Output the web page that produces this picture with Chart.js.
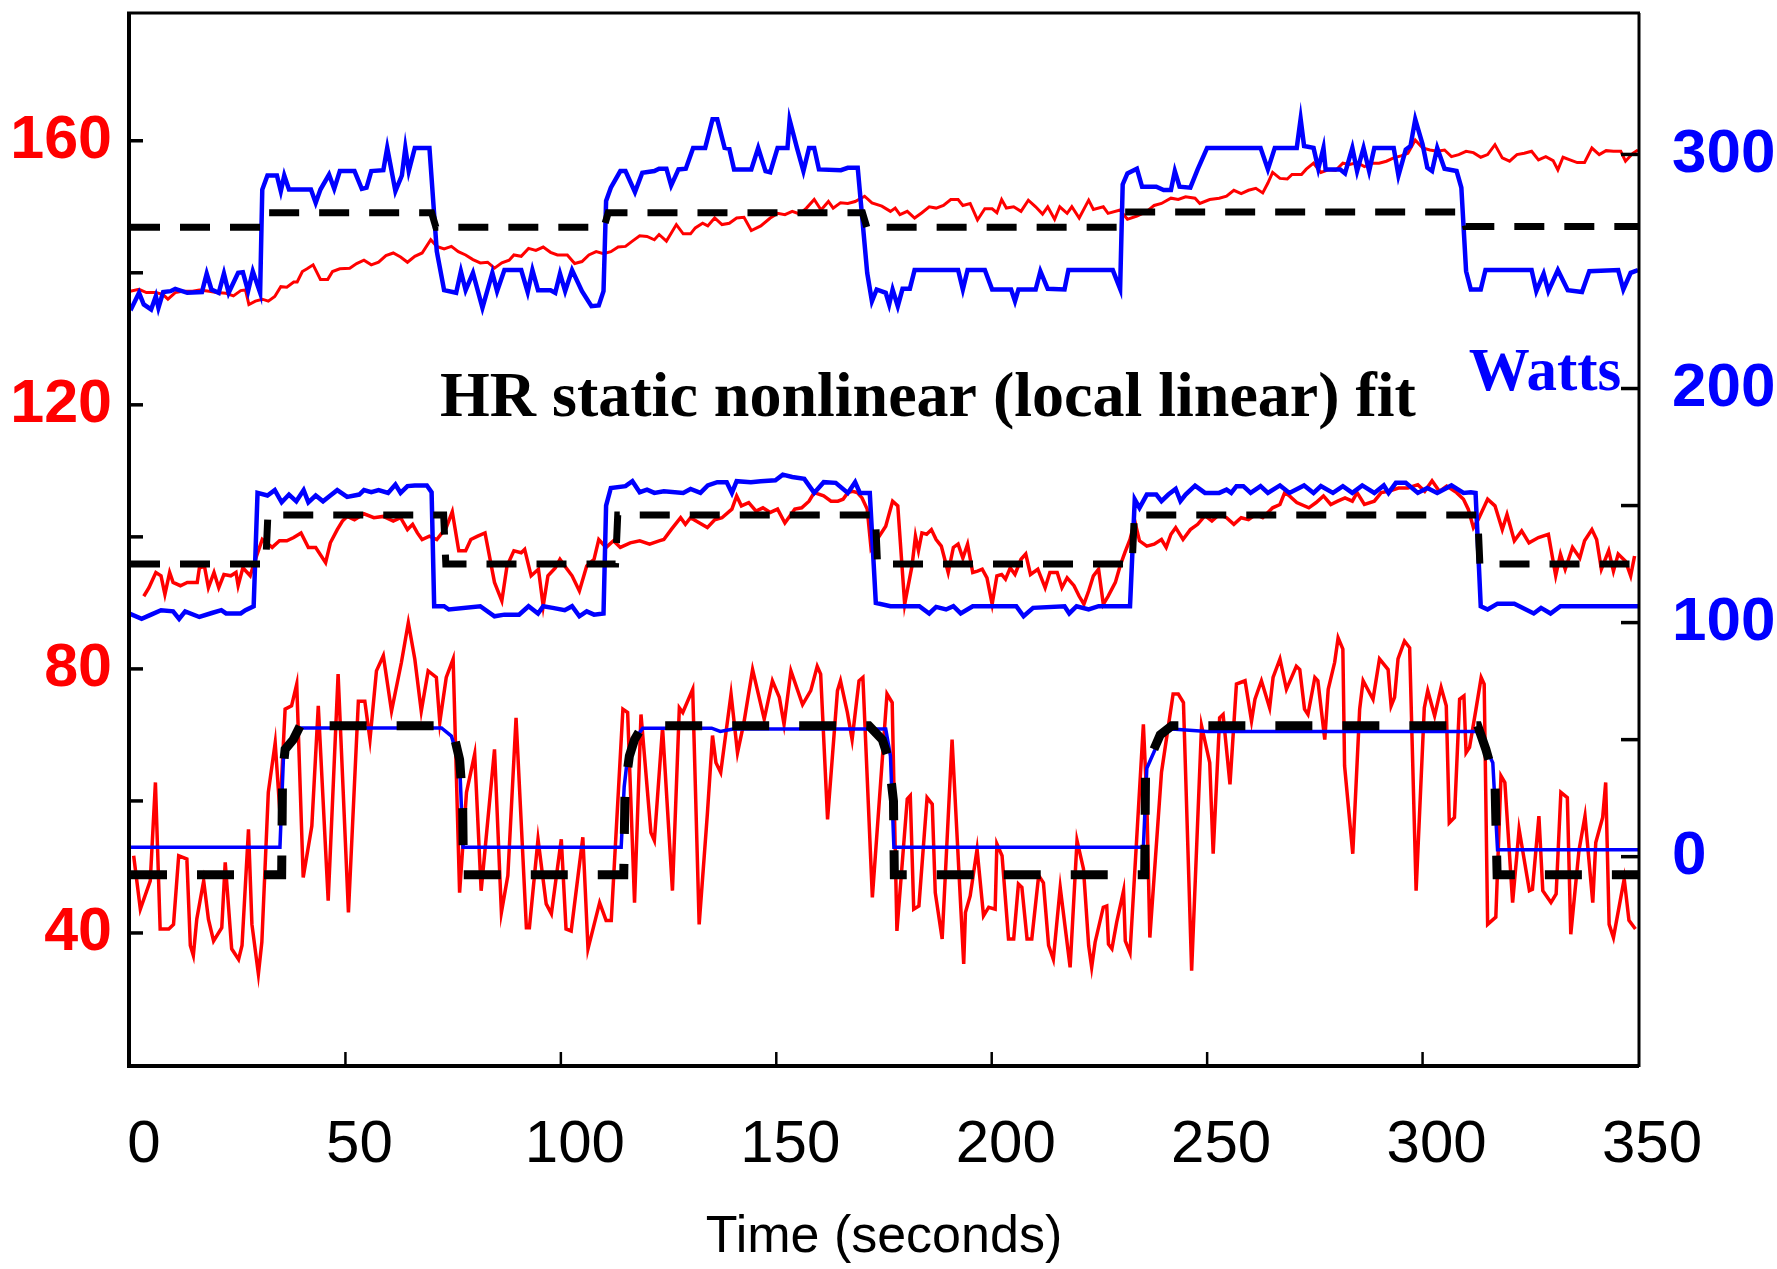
<!DOCTYPE html>
<html>
<head>
<meta charset="utf-8">
<script src="https://cdn.jsdelivr.net/npm/chart.js@4.4.1/dist/chart.umd.min.js"></script>
<style>
  html, body { margin: 0; padding: 0; background: #fff; }
  #wrap { width: 1777px; height: 1269px; }
</style>
</head>
<body>
<div id="wrap"><canvas id="hrChart" width="1777" height="1269"></canvas></div>
<script>
// time (s), value pairs
// top panel: HR (left axis), Watts (right axis), static fit (left axis)
const topHr = [[0,137.2],[2.1,137.5],[3.8,137.0],[6.0,137.0],[7.7,136.7],[8.8,136.0],[10.5,137.0],[12.2,137.2],[14.5,137.2],[16.1,137.4],[18.4,137.2],[20.1,137.0],[22.3,136.9],[24.0,136.5],[25.7,137.3],[26.8,137.4],[27.6,135.2],[29.1,135.7],[30.7,136.0],[32.1,135.7],[33.6,136.4],[35.0,137.9],[36.4,137.8],[38.0,138.6],[38.8,138.6],[40.0,140.2],[41.1,140.6],[42.5,141.2],[44.2,139.0],[45.9,139.0],[47.0,140.2],[48.7,140.6],[51.0,140.7],[52.6,141.4],[54.3,141.9],[56.0,141.2],[57.7,141.6],[59.4,142.6],[61.1,143.0],[62.8,142.4],[64.4,141.6],[66.1,142.5],[67.8,143.0],[69.8,145.0],[71.2,144.0],[72.9,143.6],[74.6,144.0],[76.2,143.2],[77.9,142.7],[79.6,142.0],[81.3,141.5],[83.0,141.6],[84.6,140.7],[86.3,141.5],[88.0,141.9],[89.1,142.7],[90.8,142.5],[92.5,143.7],[94.2,143.4],[95.9,143.9],[97.6,143.1],[99.2,142.7],[101.5,142.7],[103.2,141.4],[104.9,141.7],[106.5,142.7],[108.2,143.2],[109.9,142.9],[111.6,143.2],[113.3,143.9],[115.0,144.0],[116.6,144.8],[118.3,145.6],[120.0,145.5],[121.7,145.0],[122.8,145.8],[124.5,144.8],[125.6,146.0],[126.8,147.3],[128.4,145.9],[130.1,145.9],[131.2,146.8],[132.9,147.5],[134.1,147.1],[135.7,148.3],[137.4,147.3],[139.1,147.5],[140.8,148.3],[142.5,148.4],[144.2,146.4],[146.4,147.1],[148.6,148.3],[150.3,149.0],[152.0,148.8],[153.7,149.3],[155.4,148.9],[157.0,149.8],[158.8,151.1],[160.4,149.5],[162.1,150.8],[163.2,149.8],[164.9,150.6],[166.6,150.5],[168.3,150.8],[170.5,151.6],[172.2,150.6],[174.5,150.1],[176.5,149.3],[177.6,149.8],[178.7,148.8],[180.4,149.3],[182.1,148.3],[183.8,149.1],[185.5,150.0],[187.1,149.8],[188.8,150.2],[190.5,151.1],[192.2,151.1],[193.3,150.2],[195.0,150.5],[196.7,148.0],[198.4,149.7],[200.1,149.7],[201.2,149.1],[202.3,151.1],[203.4,149.8],[205.1,150.0],[206.8,149.3],[208.5,151.0],[210.2,150.0],[211.8,148.9],[213.0,150.0],[214.6,148.1],[215.8,150.0],[217.5,149.0],[218.6,150.0],[220.3,148.3],[222.5,151.0],[223.6,149.6],[225.9,150.0],[227.0,149.0],[229.8,149.5],[231.5,148.1],[233.7,148.6],[236.0,149.3],[237.7,150.2],[239.4,150.5],[241.6,151.3],[243.3,151.1],[245.0,151.5],[247.2,151.3],[248.3,150.5],[250.6,151.1],[252.8,151.3],[254.5,151.6],[256.2,152.5],[257.9,152.0],[259.6,152.5],[261.3,152.8],[262.9,152.1],[264.1,153.6],[265.2,155.2],[266.9,154.3],[268.6,154.2],[269.7,154.9],[271.9,154.9],[273.0,155.7],[274.7,156.6],[276.4,155.2],[278.1,155.6],[279.8,155.5],[281.5,156.6],[283.1,156.4],[284.8,156.7],[286.5,156.1],[288.2,156.6],[289.9,156.6],[291.6,156.9],[293.3,157.4],[295.0,157.7],[296.6,158.1],[298.3,160.1],[300.0,158.9],[301.7,158.6],[303.4,158.4],[305.1,158.6],[306.7,157.6],[308.4,157.9],[310.1,158.4],[311.8,158.2],[313.5,157.5],[315.1,157.9],[316.8,159.4],[318.5,157.4],[320.2,156.9],[321.9,157.9],[323.6,158.1],[325.3,158.4],[326.9,157.1],[328.6,157.6],[330.3,157.0],[331.4,155.6],[332.6,157.5],[334.2,157.1],[335.9,156.7],[337.6,156.7],[339.3,158.9],[341.0,157.9],[342.6,158.5],[344.3,158.4],[346.0,158.4],[347.1,156.9],[348.8,158.1],[350,158.6]];
const topWatts = [[0,235.2],[0.4,234.5],[2.1,240.9],[3.2,235.9],[4.9,233.8],[6.0,239.5],[6.6,234.5],[7.7,241.2],[9.4,241.6],[10.5,242.6],[13.3,240.9],[16.7,241.2],[17.8,249.1],[18.9,242.3],[20.6,240.9],[21.8,249.1],[22.9,240.9],[25.1,249.4],[26.2,249.7],[27.4,241.6],[28.5,250.1],[30.2,240.9],[30.7,285.0],[31.9,291.0],[34.1,291.0],[35.0,284.3],[35.8,291.0],[36.9,285.0],[42.0,285.0],[43.1,279.3],[44.2,285.0],[46.2,291.4],[47.4,285.3],[48.7,292.9],[52.1,292.9],[53.8,285.3],[54.9,285.8],[56.0,292.9],[58.8,293.3],[59.7,302.8],[61.6,284.3],[63.1,291.0],[63.9,302.8],[64.7,292.9],[66.1,302.8],[69.5,302.8],[71.2,258.7],[72.9,242.0],[75.7,240.9],[76.8,250.1],[77.9,242.0],[79.6,249.4],[81.8,234.5],[84.1,249.4],[85.2,241.6],[86.9,250.6],[90.8,250.6],[92.3,241.2],[93.4,250.6],[94.7,242.0],[97.6,242.0],[98.7,240.9],[99.8,249.1],[101.0,241.6],[102.6,250.6],[104.9,241.6],[107.1,235.2],[108.8,235.5],[109.9,241.6],[110.5,280.1],[111.6,285.8],[113.8,292.9],[115.0,292.9],[117.2,283.9],[118.9,292.2],[121.7,292.9],[122.8,293.9],[124.5,293.9],[125.6,286.7],[127.3,293.6],[129.0,293.9],[130.7,302.8],[133.5,302.8],[135.2,315.0],[136.3,315.0],[138.0,302.8],[139.1,302.4],[140.2,293.6],[144.2,293.6],[145.8,302.8],[147.5,292.9],[148.6,292.4],[150.3,302.8],[152.6,302.8],[153.1,314.7],[154.8,302.8],[156.3,292.9],[157.6,302.8],[158.8,302.8],[159.9,293.6],[165.0,293.3],[166.6,294.3],[168.9,294.3],[171.1,249.4],[172.2,237.3],[173.3,242.3],[175.4,240.9],[176.2,235.9],[177.0,242.3],[178.2,235.2],[179.3,242.6],[181.0,242.6],[182.1,250.6],[192.2,250.6],[193.3,242.3],[194.4,250.6],[198.4,250.6],[200.1,242.3],[204.5,242.3],[205.4,237.3],[206.2,242.3],[210.2,242.3],[211.3,250.1],[213.0,242.6],[216.9,242.3],[217.8,250.6],[228.1,250.6],[229.8,242.6],[230.4,287.2],[231.5,291.9],[233.7,293.9],[234.9,286.2],[238.2,286.2],[239.9,284.8],[241.6,284.8],[242.5,292.9],[243.6,286.2],[246.1,285.8],[247.8,293.6],[250.0,302.8],[262.4,302.8],[264.1,293.6],[265.7,302.8],[270.8,302.8],[271.7,315.2],[272.5,303.6],[274.7,302.8],[275.8,293.9],[277.0,302.8],[277.5,293.6],[280.9,293.6],[282.0,291.9],[283.7,302.8],[284.8,292.9],[286.3,302.8],[287.6,292.9],[288.8,302.8],[293.3,302.8],[294.4,291.0],[296.1,302.1],[297.2,303.6],[298.3,315.0],[300.0,304.3],[301.1,294.3],[302.2,292.9],[303.4,302.8],[305.1,293.9],[307.9,292.9],[309.0,285.8],[310.1,250.1],[311.2,242.3],[313.5,242.3],[314.6,250.6],[325.3,250.6],[326.4,241.6],[328.1,249.1],[329.2,241.6],[331.4,250.6],[333.7,242.0],[337.0,241.2],[338.7,250.1],[345.4,250.6],[346.6,242.3],[348.3,249.4],[350,250.6]];
const topFit = [[0,146.9],[30.5,146.9],[31.5,149.1],[70,149.1],[71,146.9],[110,146.9],[111,149.1],[170,149.1],[171,146.9],[229.5,146.9],[230.5,149.2],[309,149.2],[310,147.0],[350,147.0]];

// middle panel
const midHr = [[3.2,91.0],[4.4,92.3],[6.0,94.6],[7.2,94.1],[8.1,91.3],[9.2,94.6],[10.0,93.1],[11.7,92.6],[13.3,93.1],[15.6,93.1],[16.1,95.3],[17.3,95.5],[18.2,92.3],[19.5,94.6],[20.6,92.3],[21.8,94.3],[23.4,94.1],[24.6,94.6],[25.1,92.6],[26.2,95.3],[27.9,94.1],[29.1,96.6],[30.7,99.6],[33.0,98.4],[34.7,99.4],[36.4,99.4],[38.0,99.9],[39.7,100.6],[41.4,98.4],[43.1,98.4],[45.4,96.1],[46.5,99.1],[48.1,101.1],[49.3,102.4],[50.4,103.1],[52.1,102.6],[54.3,103.5],[56.6,102.9],[58.8,103.1],[61.1,102.4],[62.8,102.9],[64.4,101.1],[65.6,101.9],[66.7,100.6],[67.8,99.6],[69.5,100.1],[71.2,99.6],[73.4,101.4],[74.8,103.8],[76.3,97.9],[77.9,97.9],[79.1,99.6],[80.7,100.1],[82.4,100.6],[84.6,93.1],[86.3,90.3],[87.5,95.6],[89.1,97.9],[90.8,97.6],[91.6,98.1],[93.1,94.1],[94.8,95.1],[95.9,89.5],[97.0,94.1],[98.7,95.3],[99.8,96.6],[100.9,95.6],[102.6,94.1],[104.3,91.8],[106.0,95.6],[107.7,96.6],[108.8,99.6],[110.5,98.4],[112.2,99.4],[113.8,98.4],[116.1,99.1],[118.3,99.4],[120.6,98.9],[122.8,99.4],[123.9,99.6],[125.6,101.1],[127.8,102.9],[128.9,101.9],[130.1,102.9],[134.0,101.4],[135.7,102.6],[137.4,102.9],[139.7,104.2],[140.8,106.2],[141.9,104.7],[143.6,105.2],[145.3,103.9],[146.9,104.4],[148.6,103.7],[150.3,104.2],[152.0,102.1],[154.3,104.2],[155.9,104.4],[157.6,105.4],[158.8,106.7],[161.0,106.2],[162.7,105.4],[164.3,105.4],[165.5,105.7],[166.6,106.7],[167.7,106.9],[168.8,106.7],[169.9,105.9],[171.1,104.2],[172.0,98.2],[175.4,101.6],[177.0,105.4],[178.2,104.7],[179.8,89.8],[181.5,95.6],[182.3,100.1],[183.0,97.9],[183.8,100.6],[184.9,100.4],[186.0,101.1],[187.1,99.6],[188.3,98.6],[189.9,94.6],[191.1,98.4],[192.2,98.9],[193.3,96.8],[194.4,98.9],[195.6,94.6],[196.7,94.8],[197.8,95.1],[198.9,93.8],[200.1,89.8],[201.2,94.1],[202.3,94.3],[203.2,93.6],[204.3,95.3],[205.4,94.3],[206.8,96.6],[207.9,97.4],[209.0,94.3],[210.7,95.1],[212.4,92.3],[213.5,94.6],[215.2,94.6],[216.3,92.3],[217.5,93.8],[219.1,92.6],[220.3,91.0],[221.4,89.8],[222.5,91.8],[223.6,94.1],[224.8,95.1],[225.9,89.8],[227.0,91.0],[228.7,93.1],[229.8,95.6],[230.9,97.6],[232.1,99.6],[233.2,102.4],[234.3,99.4],[236.0,98.6],[237.7,98.9],[239.4,99.6],[240.5,98.4],[241.6,100.4],[242.7,101.4],[244.4,99.6],[246.1,101.1],[247.8,101.9],[249.5,103.2],[251.1,102.4],[252.8,103.4],[254.5,102.9],[256.2,101.9],[257.9,102.9],[259.6,102.6],[261.3,103.4],[262.9,102.9],[265.2,104.4],[266.9,104.9],[268.0,106.7],[269.1,106.2],[270.8,105.2],[273.6,104.4],[275.3,105.2],[277.0,106.2],[278.7,104.9],[280.3,105.4],[282.0,105.9],[283.7,105.4],[284.8,106.7],[286.5,104.9],[288.8,105.4],[290.4,106.7],[292.1,106.9],[294.4,107.4],[296.6,107.4],[298.9,107.9],[300.5,106.9],[302.2,108.5],[303.9,106.9],[305.6,107.7],[307.9,106.7],[309.5,105.7],[310.6,104.2],[311.8,101.4],[312.9,102.6],[315.1,105.7],[316.8,104.7],[318.5,101.1],[319.6,103.4],[321.3,99.4],[323.0,100.9],[324.7,99.1],[326.9,99.9],[329.2,100.4],[330.9,94.1],[332.0,97.4],[333.1,95.1],[334.8,98.4],[336.5,96.8],[337.6,99.4],[339.3,101.1],[340.4,99.6],[341.5,95.1],[343.2,97.9],[344.3,94.8],[345.4,97.4],[347.1,96.3],[348.3,94.1],[349.2,97.1]];
const midWatts = [[0,103.8],[2.7,101.6],[4.9,103.4],[7.2,105.3],[10.0,104.8],[11.4,101.6],[12.8,104.8],[16.1,102.4],[19.0,104.1],[21.2,105.3],[22.3,103.9],[25.7,103.9],[26.8,105.3],[28.7,107.0],[29.6,155.4],[31.9,154.3],[33.6,156.6],[35.2,151.4],[36.9,154.7],[38.6,151.8],[40.3,156.6],[41.4,151.4],[43.1,154.3],[44.8,151.8],[46.5,154.3],[48.1,156.6],[50.4,153.7],[53.2,154.7],[54.3,156.6],[56.0,155.7],[57.7,156.6],[59.9,155.4],[61.6,159.0],[62.8,155.4],[64.4,158.3],[66.1,158.6],[68.9,158.6],[70.0,155.7],[70.6,107.0],[72.9,107.0],[74.0,105.6],[81.3,107.0],[84.6,102.7],[86.9,103.4],[90.3,103.4],[92.5,107.0],[94.7,103.9],[95.9,107.0],[98.1,106.3],[100.9,105.3],[102.6,107.0],[104.3,102.7],[106.0,104.8],[107.7,103.4],[109.9,103.9],[110.5,150.0],[111.6,157.5],[115.0,158.3],[116.6,160.4],[118.3,155.7],[120.0,156.8],[121.7,155.4],[123.9,156.1],[128.4,155.4],[130.1,157.1],[132.4,155.4],[134.1,158.6],[136.3,160.0],[138.5,160.0],[139.7,155.4],[140.8,160.4],[144.1,160.0],[146.4,160.4],[149.8,160.8],[151.5,163.2],[153.7,162.2],[156.5,161.4],[158.8,155.4],[161.0,160.0],[163.8,159.7],[166.6,155.4],[168.3,160.0],[169.4,155.4],[171.7,155.4],[173.1,108.4],[176.5,107.0],[183.2,107.0],[185.5,103.9],[187.1,106.7],[189.4,105.6],[191.1,107.0],[192.8,103.9],[195.6,107.0],[205.7,107.0],[207.4,102.7],[209.6,106.3],[216.9,107.0],[218.0,103.9],[219.7,107.0],[222.5,105.6],[224.8,107.0],[232.1,107.0],[233.2,152.6],[234.3,149.0],[236.0,154.7],[238.2,154.7],[239.4,151.9],[241.0,154.7],[242.7,157.1],[243.8,151.9],[245.0,154.7],[247.2,158.5],[249.5,155.4],[252.8,155.4],[254.5,156.8],[255.6,155.4],[256.8,158.3],[258.4,158.3],[260.1,155.4],[262.4,158.3],[264.1,155.4],[266.9,158.6],[269.1,155.4],[272.5,158.6],[274.7,155.4],[276.4,158.3],[279.2,155.4],[281.5,158.3],[283.7,155.4],[286.0,158.6],[288.8,155.4],[291.0,158.6],[292.1,155.4],[293.8,159.7],[296.1,159.7],[298.9,155.4],[301.1,157.5],[303.4,155.4],[306.7,158.6],[309.5,155.4],[311.2,155.7],[312.3,155.4],[313.5,107.0],[315.1,105.6],[317.4,108.1],[321.3,108.1],[325.8,103.9],[327.5,106.3],[329.7,103.9],[332.0,107.0],[350,107.0]];
const midFit = [[0,95.9],[31.5,95.9],[32,103.3],[72.8,103.3],[73.3,95.9],[112.7,95.9],[113.2,103.3],[173,103.3],[173.5,95.9],[232.6,95.9],[233.1,103.3],[312.8,103.3],[313.3,95.9],[350,95.9]];

// bottom panel
const botHr = [[0.85,51.7],[2.4,43.6],[4.7,47.9],[5.9,62.8],[7.0,40.6],[9.0,40.6],[10.1,41.3],[11.3,51.7],[13.2,51.2],[14.0,38.1],[14.7,36.6],[15.5,42.1],[17.1,47.9],[18.2,42.1],[19.4,38.8],[21.3,40.8],[22.1,50.7],[23.6,37.6],[25.2,36.0],[26.0,38.1],[27.5,55.7],[28.3,41.3],[29.8,33.8],[30.6,38.6],[32.1,61.3],[33.7,68.8],[34.8,58.2],[36.0,73.9],[37.5,74.4],[38.7,77.7],[40.2,48.4],[42.2,56.2],[43.7,74.4],[46.0,44.9],[48.3,79.2],[50.7,43.1],[53.0,75.1],[54.5,75.1],[55.7,69.3],[57.2,79.7],[58.8,82.0],[60.7,73.6],[63.0,81.0],[64.6,87.0],[66.1,81.5],[67.6,73.6],[69.2,79.7],[71.1,78.7],[71.9,71.9],[73.4,78.7],[75.0,81.5],[76.5,46.1],[78.1,61.3],[80.0,67.1],[81.5,46.4],[84.6,67.8],[86.2,43.1],[87.7,48.7],[89.6,72.6],[92.0,40.8],[92.7,40.8],[94.7,54.2],[96.6,44.4],[97.8,42.9],[100.1,54.2],[101.2,40.6],[102.4,40.3],[105.1,54.5],[106.3,37.6],[109.0,44.6],[110.5,41.9],[111.7,41.9],[114.4,73.9],[115.5,73.4],[117.1,44.6],[118.6,73.1],[120.9,55.2],[121.7,54.0],[123.6,71.1],[125.9,46.4],[127.5,74.1],[128.3,73.4],[130.6,76.9],[132.1,41.3],[134.0,58.0],[135.2,69.9],[136.0,65.8],[137.1,64.3],[139.5,76.2],[141.0,67.3],[142.5,71.9],[144.5,79.9],[147.2,72.4],[149.1,78.2],[150.7,75.7],[151.8,71.6],[153.4,79.7],[156.1,74.6],[158.0,76.7],[159.5,80.4],[160.3,79.2],[161.9,57.2],[164.2,76.7],[164.9,78.2],[166.5,73.4],[167.6,69.3],[169.2,78.2],[170.1,78.7],[172.3,45.4],[175.7,76.2],[176.9,74.9],[178.0,40.3],[180.4,60.3],[181.1,60.8],[181.9,43.6],[183.1,44.1],[185.0,60.5],[186.2,59.5],[186.9,46.1],[188.5,39.1],[190.8,69.3],[193.5,35.3],[193.9,43.1],[195.0,45.6],[196.6,52.7],[198.1,42.6],[199.3,43.9],[200.8,43.6],[201.2,53.5],[202.4,51.7],[203.9,39.1],[205.1,39.1],[206.2,47.4],[207.0,46.9],[208.2,39.1],[209.3,39.1],[210.9,48.7],[212.0,47.6],[213.2,38.1],[214.3,36.0],[215.9,46.9],[218.2,34.8],[219.8,54.0],[221.3,49.7],[222.5,38.1],[223.2,34.8],[224.0,38.6],[225.9,43.9],[226.7,44.1],[227.1,38.3],[227.9,37.6],[229.0,41.6],[230.6,46.4],[231.0,38.8],[232.1,37.0],[235.2,71.6],[236.0,60.0],[236.7,39.3],[239.4,64.3],[242.1,76.2],[243.3,76.2],[244.5,74.9],[246.4,34.3],[248.7,71.4],[250.6,65.8],[251.4,52.0],[252.9,72.6],[253.7,73.1],[255.3,62.5],[256.8,77.7],[258.8,78.2],[260.3,72.1],[261.1,75.4],[262.6,78.2],[264.5,74.1],[265.3,78.7],[266.9,81.5],[268.4,76.9],[270.7,80.4],[271.5,79.9],[272.6,73.9],[273.4,73.1],[275.0,78.7],[275.7,78.2],[277.3,69.3],[278.1,76.9],[279.6,81.0],[280.4,84.7],[281.5,83.0],[281.9,65.3],[283.8,52.0],[285.4,73.9],[286.2,78.2],[288.5,75.4],[290.0,81.5],[292.0,79.9],[292.7,74.4],[293.5,75.7],[294.3,81.5],[295.8,84.2],[297.0,83.2],[298.5,46.4],[300.4,74.1],[301.2,76.7],[302.8,72.9],[304.3,77.2],[305.5,74.4],[306.2,56.7],[307.4,57.5],[308.6,75.4],[309.6,75.9],[310.1,67.3],[310.9,68.1],[312.4,73.9],[313.6,78.7],[314.3,77.7],[315.1,41.3],[317.0,42.4],[318.2,63.8],[319.1,62.8],[320.9,44.6],[322.4,55.7],[324.8,46.4],[325.5,46.6],[327.0,57.7],[327.9,46.4],[329.8,44.6],[331.0,45.9],[332.1,61.3],[333.6,60.5],[334.4,39.8],[336.3,52.5],[337.7,57.7],[339.5,44.6],[340.2,53.7],[341.8,57.5],[342.5,62.8],[343.3,41.3],[344.3,39.3],[346.8,48.2],[347.9,41.9],[349.4,40.6]];
const botWatts = [[0,4],[34.8,4],[35.6,41.5],[36.8,48.6],[39.5,55],[72.3,55],[74.6,51.5],[76.5,40.1],[77.3,4],[114,4],[114.7,29.9],[115.5,42.7],[117.1,49.9],[119,54.9],[135,54.9],[137,53.5],[140,54.5],[175.4,54.5],[176.5,43],[177.3,4],[235.2,4],[236,37.8],[239.4,52],[241.8,54.5],[250,53.5],[312.8,53.5],[316.3,40.1],[317.4,3],[350,3]];
const botFit = [[0,48.8],[35.2,48.8],[35.4,64],[36.0,67.8],[37.9,69.3],[39.5,71.4],[72.7,71.4],[75.4,69.3],[76.5,66.3],[77.2,60],[77.4,48.8],[114.6,48.8],[114.9,62],[115.9,66.8],[117.1,69.3],[119.0,71.4],[171.5,71.4],[174.6,69.3],[176.1,66.3],[177.2,60],[177.4,48.8],[235.5,48.8],[235.7,64],[237.1,67],[239.1,70],[241.8,71.4],[312.8,71.4],[314.7,67.8],[316.8,63],[317.3,48.8],[350,48.8]];

// axes
const xTicks = [0, 50, 100, 150, 200, 250, 300, 350];
const hrLabels = [40, 80, 120, 160];
const hrTickMarks = [40, 60, 80, 100, 120, 140, 160];
const wattLabels = [0, 100, 200, 300];
const wattTickMarks = [0, 50, 100, 150, 200, 300];

const toXY = arr => arr.map(p => ({ x: p[0], y: p[1] }));

function series(data, axis, color, width, dash, order) {
    return {
        data: toXY(data),
        yAxisID: axis,
        borderColor: color,
        borderWidth: width,
        borderDash: dash || [],
        pointRadius: 0,
        tension: 0,
        fill: false,
        order: order
    };
}

// frame + inward tick marks, like the original figure
const framePlugin = {
    id: 'frame',
    afterDatasetsDraw(chart) {
        const { ctx, chartArea: a, scales } = chart;
        ctx.save();
        ctx.strokeStyle = '#000';
        ctx.lineCap = 'butt';
        function seg(x1, y1, x2, y2) {
            ctx.beginPath(); ctx.moveTo(x1, y1); ctx.lineTo(x2, y2); ctx.stroke();
        }
        ctx.lineWidth = 3.5;
        hrTickMarks.forEach(v => {
            const y = scales.y.getPixelForValue(v);
            seg(a.left, y, a.left + 13, y);
        });
        wattTickMarks.forEach(v => {
            const y = scales.y2.getPixelForValue(v);
            seg(a.right - 17, y, a.right, y);
        });
        ctx.lineWidth = 2.5;
        xTicks.slice(1, -1).forEach(v => {
            const x = scales.x.getPixelForValue(v);
            seg(x, a.bottom, x, a.bottom - 13);
        });
        ctx.lineWidth = 4;
        seg(a.left - 1, a.top - 1, a.left - 1, a.bottom + 1);
        seg(a.left - 3, a.bottom + 1, a.right + 1, a.bottom + 1);
        ctx.lineWidth = 3;
        seg(a.right + 1, a.top - 1, a.right + 1, a.bottom + 2);
        seg(a.left - 3, a.top - 1, a.right + 2, a.top - 1);
        ctx.restore();
    }
};

const notesPlugin = {
    id: 'notes',
    afterDraw(chart) {
        const ctx = chart.ctx;
        ctx.save();
        ctx.textAlign = 'center';
        ctx.textBaseline = 'middle';
        ctx.fillStyle = '#000';
        ctx.font = 'bold 64px "Liberation Serif", "Times New Roman", serif';
        ctx.fillText('HR static nonlinear (local linear) fit', 928, 399);
        ctx.fillStyle = '#0000ff';
        ctx.font = 'bold 61px "Liberation Serif", "Times New Roman", serif';
        ctx.fillText('Watts', 1545, 374);
        ctx.restore();
    }
};

// stop the axes from reserving room for half a label at the ends
function noEndPadding(s) {
    s.paddingTop = 0;
    s.paddingBottom = 0;
    s.paddingLeft = 0;
    s.paddingRight = 0;
}

const ctx = document.getElementById('hrChart').getContext('2d');
new Chart(ctx, {
    type: 'line',
    data: {
        datasets: [
            series(topHr, 'y', '#ff0000', 3, null, 3),
            series(midHr, 'y', '#ff0000', 3.5, null, 3),
            series(botHr, 'y', '#ff0000', 3.5, null, 3),
            series(topWatts, 'y2', '#0000ff', 4.5, null, 2),
            series(midWatts, 'y2', '#0000ff', 4.5, null, 2),
            series(botWatts, 'y2', '#0000ff', 3.5, null, 2),
            series(topFit, 'y', '#000000', 7, [30, 20], 1),
            series(midFit, 'y', '#000000', 7, [30, 20], 1),
            series(botFit, 'y', '#000000', 9, [37, 30], 1)
        ]
    },
    options: {
        responsive: false,
        animation: false,
        layout: { padding: { top: 14, left: 0, right: 0, bottom: 0 } },
        plugins: {
            legend: { display: false },
            tooltip: { enabled: false }
        },
        scales: {
            x: {
                type: 'linear',
                min: 0,
                max: 350,
                grid: { display: false },
                border: { display: false },
                afterFit: s => { s.height = 204; noEndPadding(s); },
                afterBuildTicks: s => { s.ticks = xTicks.map(v => ({ value: v })); },
                ticks: {
                    autoSkip: false,
                    maxRotation: 0,
                    padding: 36,
                    labelOffset: 14,
                    color: '#000',
                    font: { family: '"Liberation Sans", Arial, sans-serif', size: 60 }
                },
                title: {
                    display: true,
                    text: 'Time (seconds)',
                    color: '#000',
                    padding: { top: 0, bottom: 0 },
                    font: { family: '"Liberation Sans", Arial, sans-serif', size: 52 }
                }
            },
            y: {
                position: 'left',
                min: 20,
                max: 179.2,
                grid: { display: false },
                border: { display: false },
                afterFit: s => { s.width = 130; noEndPadding(s); },
                afterBuildTicks: s => { s.ticks = hrLabels.map(v => ({ value: v })); },
                ticks: {
                    autoSkip: false,
                    padding: 10,
                    color: '#ff0000',
                    font: { family: '"Liberation Sans", Arial, sans-serif', size: 61, weight: 'bold' }
                }
            },
            y2: {
                position: 'right',
                min: -89,
                max: 360,
                grid: { display: false },
                border: { display: false },
                afterFit: s => { s.width = 139; noEndPadding(s); },
                afterBuildTicks: s => { s.ticks = wattLabels.map(v => ({ value: v })); },
                ticks: {
                    autoSkip: false,
                    padding: 26,
                    color: '#0000ff',
                    font: { family: '"Liberation Sans", Arial, sans-serif', size: 62, weight: 'bold' }
                }
            }
        }
    },
    plugins: [framePlugin, notesPlugin]
});
</script>
</body>
</html>
